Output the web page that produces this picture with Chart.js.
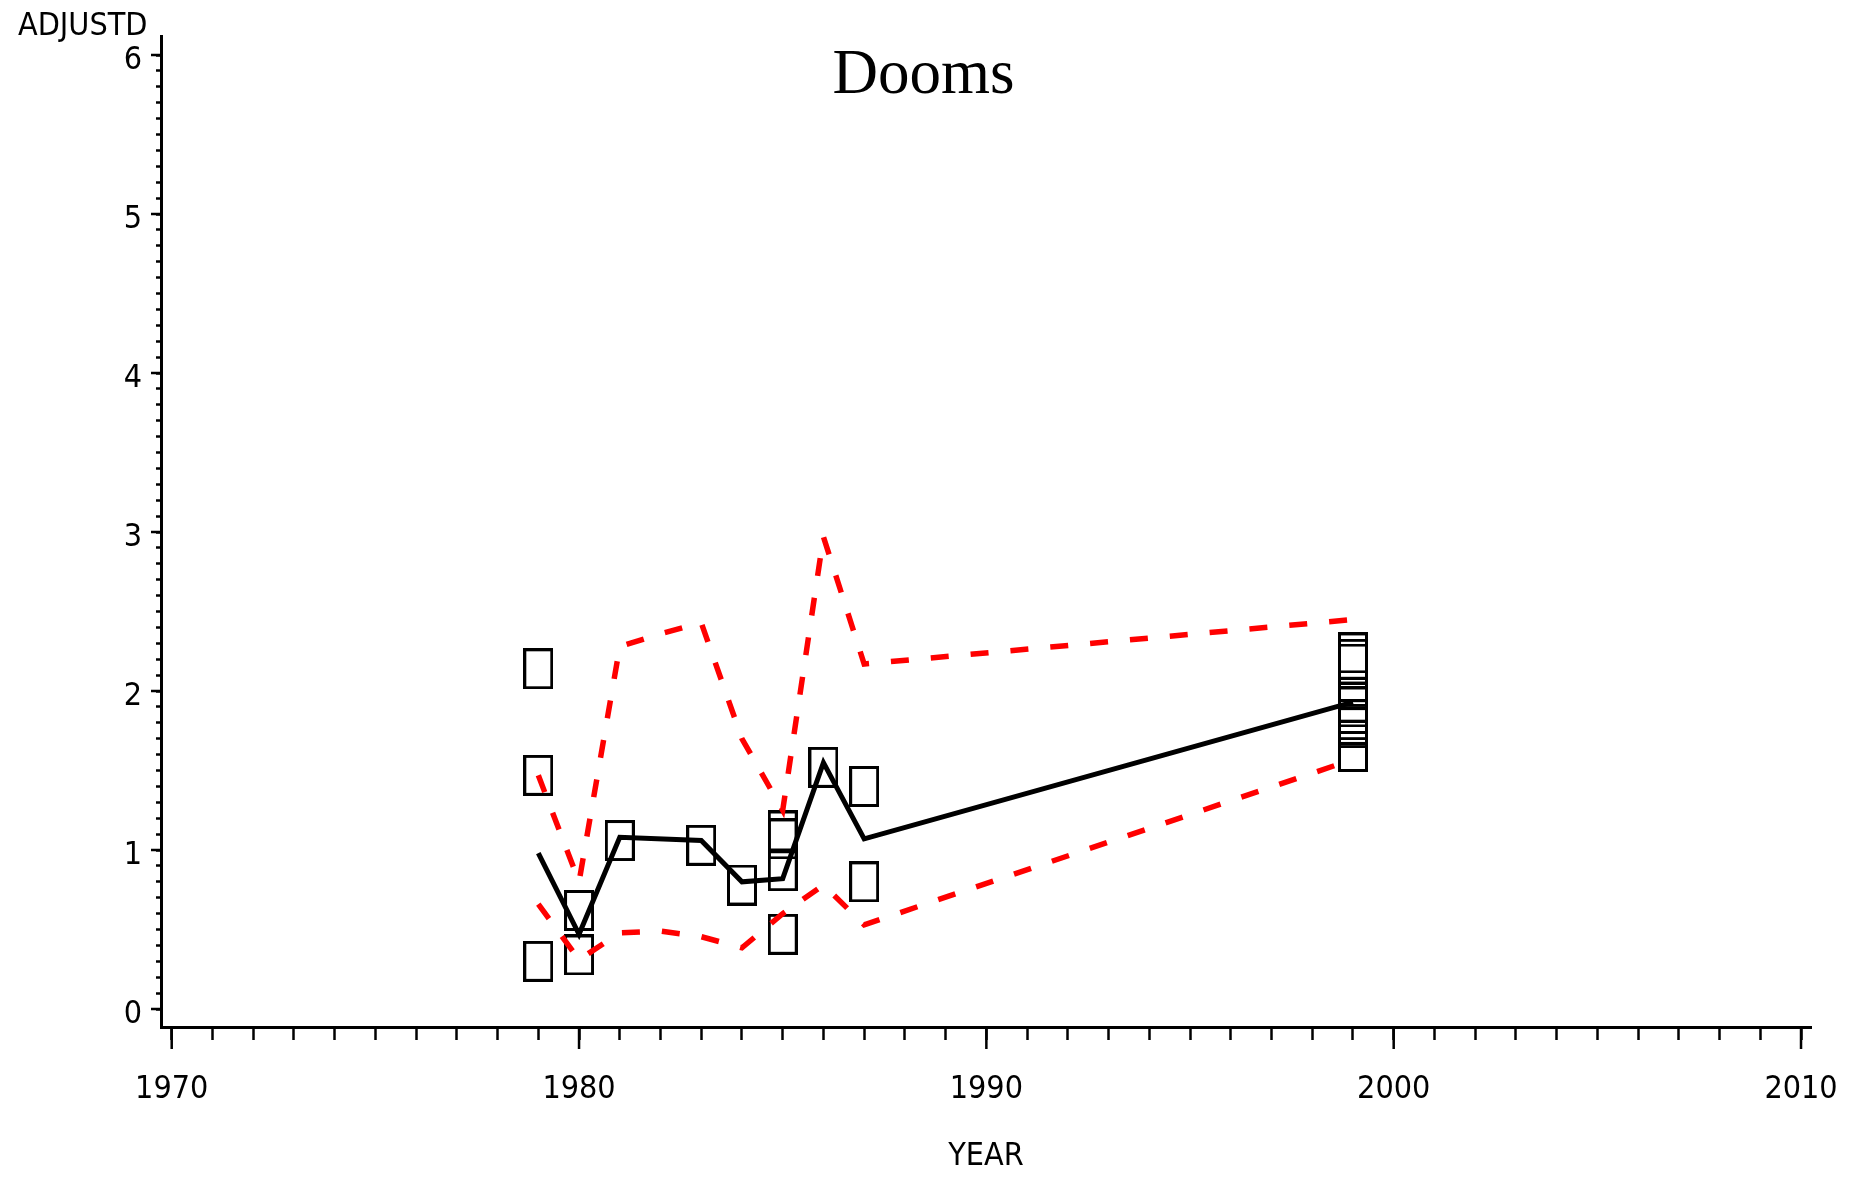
<!DOCTYPE html>
<html>
<head>
<meta charset="utf-8">
<script src="https://cdn.jsdelivr.net/npm/chart.js@4.4.1/dist/chart.umd.min.js"></script>
<style>
  html, body { margin: 0; padding: 0; background: #fff; }
</style>
</head>
<body>
<canvas id="chart" width="1856" height="1177"></canvas>
<script>
// observed values (square markers)
const obsYears  = [1979, 1979, 1979, 1980, 1980, 1981, 1983, 1984, 1985, 1985, 1985, 1985, 1986, 1987, 1987,
                   1999, 1999, 1999, 1999, 1999, 1999, 1999, 1999, 1999];
const obsValues = [2.14, 1.47, 0.30, 0.62, 0.34, 1.06, 1.03, 0.78, 1.12, 1.07, 0.87, 0.47, 1.52, 1.40, 0.80,
                   2.24, 2.20, 2.17, 1.93, 1.90, 1.82, 1.79, 1.77, 1.62];

// fitted line (black)
const meanYears  = [1979, 1980, 1981, 1983, 1984, 1985, 1986, 1987, 1999];
const meanValues = [0.98, 0.47, 1.08, 1.06, 0.80, 0.82, 1.55, 1.07, 1.93];

// limits (red dashed)
const bandYears   = [1979, 1980, 1981, 1982, 1983, 1984, 1985, 1986, 1987, 1999];
const upperValues = [1.47, 0.80, 2.28, 2.36, 2.43, 1.70, 1.25, 2.97, 2.17, 2.45];
const lowerValues = [0.66, 0.31, 0.48, 0.49, 0.455, 0.385, 0.60, 0.78, 0.53, 1.57];

// axis ticks
const xMajor = [1970, 1980, 1990, 2000, 2010];
const yMajor = [0, 1, 2, 3, 4, 5, 6];

const LABEL_FONT = "'Liberation Sans Narrow', 'DejaVu Sans Condensed', 'DejaVu Sans Mono', monospace";

const pts = (xs, ys) => xs.map((x, i) => ({ x: x, y: ys[i] }));

// open rectangle used as the marker
const box = document.createElement('canvas');
box.width = 30;
box.height = 41;
const bctx = box.getContext('2d');
bctx.strokeStyle = '#000';
bctx.lineWidth = 3;
bctx.strokeRect(1.5, 1.5, 27, 38);

// longer marks at the labelled ticks, and nudge the "Dooms" heading a bit right
const majorTicks = {
  id: 'majorTicks',
  afterLayout(chart) {
    chart.boxes.forEach(b => {
      if (b.options && b.options.text === 'Dooms') {
        b.left += 9;
        b.right += 9;
      }
    });
  },
  afterDraw(chart) {
    const { ctx, scales: { x, y } } = chart;
    ctx.save();
    ctx.strokeStyle = '#000';
    ctx.lineWidth = 2.5;
    ctx.beginPath();
    xMajor.forEach(v => {
      const px = x.getPixelForValue(v);
      ctx.moveTo(px, x.top);
      ctx.lineTo(px, x.top + 22);
    });
    yMajor.forEach(v => {
      const py = y.getPixelForValue(v);
      ctx.moveTo(y.right, py);
      ctx.lineTo(y.right - 10, py);
    });
    ctx.stroke();
    ctx.restore();
  }
};

new Chart(document.getElementById('chart'), {
  type: 'scatter',
  data: {
    datasets: [
      {
        label: 'upper',
        data: pts(bandYears, upperValues),
        showLine: true,
        borderColor: '#ff0000',
        borderWidth: 5.5,
        borderDash: [18, 22],
        pointRadius: 0,
        tension: 0
      },
      {
        label: 'lower',
        data: pts(bandYears, lowerValues),
        showLine: true,
        borderColor: '#ff0000',
        borderWidth: 5.5,
        borderDash: [18, 22],
        pointRadius: 0,
        tension: 0
      },
      {
        label: 'mean',
        data: pts(meanYears, meanValues),
        showLine: true,
        borderColor: '#000',
        borderWidth: 5,
        pointRadius: 0,
        tension: 0
      },
      {
        label: 'ADJUSTD',
        data: pts(obsYears, obsValues),
        pointStyle: box,
        pointRadius: 3
      }
    ]
  },
  options: {
    responsive: false,
    animation: false,
    events: [],
    layout: { padding: { left: 18, right: 45, top: 0, bottom: 0 } },
    plugins: {
      legend: { display: false },
      tooltip: { enabled: false },
      title: {
        display: true,
        text: 'ADJUSTD',
        align: 'start',
        color: '#000',
        font: { family: LABEL_FONT, size: 32, weight: 'normal', lineHeight: '26px' },
        padding: { top: 14, bottom: -4 }
      },
      subtitle: {
        display: true,
        text: 'Dooms',
        color: '#000',
        font: { family: "'Liberation Serif', 'Times New Roman', serif", size: 63, weight: 'normal', lineHeight: 1 },
        padding: { top: 9, bottom: -72 }
      }
    },
    scales: {
      x: {
        type: 'linear',
        min: 1969.737,
        max: 2010.245,
        afterFit(scale) {
          scale.height = 150;
          scale.paddingLeft = 0;
          scale.paddingRight = 0;
        },
        afterBuildTicks(scale) {
          const t = [];
          for (let v = xMajor[0]; v <= xMajor[xMajor.length - 1]; v++) t.push({ value: v });
          scale.ticks = t;
        },
        border: { display: true, color: '#000', width: 3 },
        grid: { drawOnChartArea: false, drawTicks: true, tickLength: 13, tickWidth: 2.5, tickColor: '#000', color: '#000' },
        ticks: {
          autoSkip: false,
          maxRotation: 0,
          minRotation: 0,
          padding: 30,
          color: '#000',
          font: { family: LABEL_FONT, size: 32 },
          callback: v => (xMajor.includes(v) ? String(v) : '')
        },
        title: {
          display: true,
          text: 'YEAR',
          color: '#000',
          font: { family: LABEL_FONT, size: 32, lineHeight: 1 },
          padding: { top: 0, bottom: 4 }
        }
      },
      y: {
        type: 'linear',
        min: -0.113,
        max: 6.12,
        afterFit(scale) {
          scale.width = 143;
          scale.paddingTop = 0;
          scale.paddingBottom = 0;
        },
        afterBuildTicks(scale) {
          const t = [];
          for (let i = 0; i <= 60; i++) t.push({ value: i / 10 });
          scale.ticks = t;
        },
        border: { display: true, color: '#000', width: 3 },
        grid: { drawOnChartArea: false, drawTicks: true, tickLength: 5, tickWidth: 2.5, tickColor: '#000', color: '#000' },
        ticks: {
          autoSkip: false,
          padding: 14,
          labelOffset: 6,
          color: '#000',
          font: { family: LABEL_FONT, size: 32 },
          callback: v => (Number.isInteger(v) ? String(v) : '')
        }
      }
    }
  },
  plugins: [majorTicks]
});
</script>
</body>
</html>
